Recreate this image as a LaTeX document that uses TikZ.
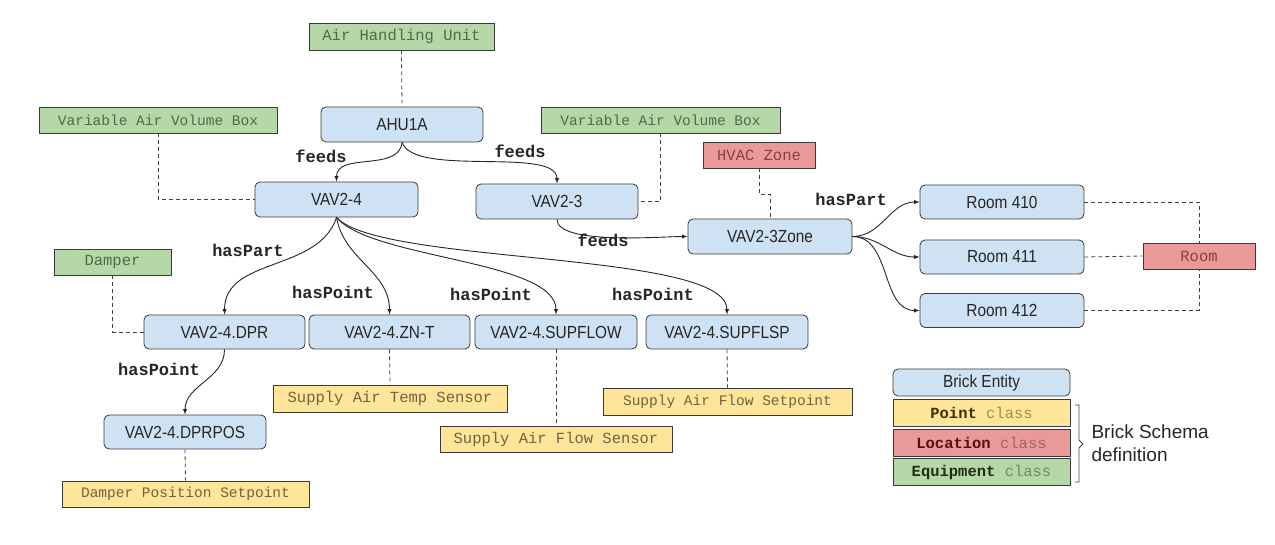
\documentclass[tikz,border=0pt]{standalone}
\usepackage{fontspec}
\setmainfont{Liberation Sans}
\setsansfont{Liberation Sans}
\setmonofont{Liberation Mono}
\newfontfamily\entfont[FakeStretch=0.88]{Liberation Sans}
\definecolor{edge}{HTML}{3A3A3A}
\definecolor{entfill}{HTML}{CFE2F3}
\definecolor{eqfill}{HTML}{B6D7A8}
\definecolor{ptfill}{HTML}{FFE599}
\definecolor{locfill}{HTML}{EA9999}
\definecolor{eqtext}{HTML}{4F6B47}
\definecolor{pttext}{HTML}{6F6240}
\definecolor{loctext}{HTML}{8E3E3E}
\definecolor{eqdark}{HTML}{1F2E17}
\definecolor{ptdark}{HTML}{3D2F05}
\definecolor{locdark}{HTML}{5A0F0F}
\definecolor{eqclass}{HTML}{6B8E60}
\definecolor{ptclass}{HTML}{A48B4A}
\definecolor{locclass}{HTML}{9A6565}
\begin{document}
\begin{tikzpicture}[x=1pt,y=-1pt,
  entity/.style={draw=edge, fill=entfill, rounded corners=5pt, line width=0.8pt, inner sep=0pt,
    minimum width=162, minimum height=35, text=black!85, font=\entfont\fontsize{17.5}{20}\selectfont},
  classbox/.style={draw=edge, line width=0.8pt, inner sep=0pt, minimum height=26,
    font=\ttfamily\fontsize{15.5}{18}\selectfont},
  longname/.style={font=\ttfamily\fontsize{14.5}{17}\selectfont},
  equipbox/.style={classbox, fill=eqfill, text=eqtext},
  pointbox/.style={classbox, fill=ptfill, text=pttext},
  placebox/.style={classbox, fill=locfill, text=loctext},
  rel/.style={->, >=latex, line width=0.9pt, draw=black!85},
  tie/.style={draw=black!75, line width=0.8pt, dash pattern=on 4pt off 3pt},
  relname/.style={text=black!85, font=\ttfamily\bfseries\fontsize{17}{19}\selectfont}
]
\useasboundingbox (0,0) rectangle (1275,545);

\node[equipbox, minimum width=185, minimum height=27] (ahuClass) at (401.5,36.5){Air Handling Unit};
\node[entity] (ahu) at (402,124.5){AHU1A};
\draw[tie] (ahuClass.south) -- (ahu.north);

\node[equipbox, longname, minimum width=238] (vavClassL) at (158,120){Variable Air Volume Box};
\node[entity, minimum width=163] (vavFour) at (336.5,199.5){VAV2-4};
\draw[tie] (vavClassL.south) |- (vavFour.west);

\node[equipbox, longname, minimum width=239] (vavClassR) at (660.5,120){Variable Air Volume Box};
\node[entity] (vavThree) at (557,201.5){VAV2-3};
\draw[tie] (vavClassR.south) |- (vavThree.east);

\draw[rel] (ahu.south) to[out=-95,in=90] (vavFour.north);
\draw[rel] (ahu.south) to[out=-70,in=90,looseness=0.6] (vavThree.north);
\node[relname] (feedsA) at (321,156){feeds};
\node[relname] (feedsB) at (520,151){feeds};

\node[placebox, minimum width=112] (hvacClass) at (759,155){HVAC Zone};
\node[entity, minimum width=164] (zone) at (770,236.5){VAV2-3Zone};
\draw[tie] (hvacClass.south) -- ++(0,26) -| (zone.north);
\draw[rel] (vavThree.south) to[out=-90,in=180,looseness=0.5] (zone.west);
\node[relname] (feedsC) at (603,240){feeds};

\node[entity, minimum width=164, minimum height=34] (roomA) at (1002,202){Room 410};
\node[entity, minimum width=164, minimum height=34] (roomB) at (1002,257){Room 411};
\node[entity, minimum width=164, minimum height=34] (roomC) at (1002,310.5){Room 412};
\node[placebox, minimum width=112] (roomClass) at (1199,256){Room};
\draw[rel] (zone.east) to[out=0,in=180] (roomA.west);
\draw[rel] (zone.east) to[out=0,in=180] (roomB.west);
\draw[rel] (zone.east) to[out=0,in=180] (roomC.west);
\node[relname] (partB) at (851,199){hasPart};
\draw[tie] (roomA.east) -| (roomClass.north);
\draw[tie] (roomB.east) -- (roomClass.west);
\draw[tie] (roomC.east) -| (roomClass.south);

\node[equipbox, minimum width=117] (damperClass) at (112.5,262){Damper};
\node[entity, minimum width=161, minimum height=34] (dpr) at (224.5,332){VAV2-4.DPR};
\node[entity, minimum width=161, minimum height=34] (znt) at (389.5,332){VAV2-4.ZN-T};
\node[entity, minimum width=162, minimum height=34] (supflow) at (556,332){VAV2-4.SUPFLOW};
\node[entity, minimum width=162, minimum height=34] (supflsp) at (727,332){VAV2-4.SUPFLSP};
\draw[tie] (damperClass.south) |- (dpr.west);

\draw[rel] (vavFour.south) to[out=-108,in=90] (dpr.north);
\draw[rel] (vavFour.south) to[out=-80,in=90] (znt.north);
\draw[rel] (vavFour.south) to[out=-50,in=90,looseness=0.58] (supflow.north);
\draw[rel] (vavFour.south) to[out=-48,in=90,looseness=0.41] (supflsp.north);
\node[relname] (partA) at (248,250){hasPart};
\node[relname] (pointA) at (333,292){hasPoint};
\node[relname] (pointB) at (491,294){hasPoint};
\node[relname] (pointC) at (653,294){hasPoint};

\node[entity, minimum width=162, minimum height=34] (dprpos) at (185,432){VAV2-4.DPRPOS};
\draw[rel] (dpr.south) to[out=-90,in=90] (dprpos.north);
\node[relname] (pointD) at (159,369){hasPoint};

\node[pointbox, longname, minimum width=247] (dprposClass) at (185.5,494){Damper Position Setpoint};
\node[pointbox, minimum width=234, minimum height=27] (zntClass) at (390,398.5){Supply Air Temp Sensor};
\node[pointbox, minimum width=232] (supflowClass) at (556,439){Supply Air Flow Sensor};
\node[pointbox, longname, minimum width=249, minimum height=27] (supflspClass) at (727.5,401.5){Supply Air Flow Setpoint};
\draw[tie] (dprpos.south) -- (dprposClass.north);
\draw[tie] (znt.south) -- (zntClass.north);
\draw[tie] (supflow.south) -- (supflowClass.north);
\draw[tie] (supflsp.south) -- (supflspClass.north);

\node[entity, minimum width=177, minimum height=27] (entLeg) at (981.5,382.5){Brick Entity};
\node[pointbox, minimum width=177, minimum height=27] (ptLeg) at (981.5,412.5){\textcolor{ptdark}{\textbf{Point}} \textcolor{ptclass}{class}};
\node[placebox, minimum width=177, minimum height=27] (locLeg) at (981.5,442.5){\textcolor{locdark}{\textbf{Location}} \textcolor{locclass}{class}};
\node[equipbox, minimum width=177, minimum height=27] (eqLeg) at (981.5,472){\textcolor{eqdark}{\textbf{Equipment}} \textcolor{eqclass}{class}};
\draw[draw=black!75, line width=0.8pt] (1075,405) -- (1079,405) -- (1079,440) -- (1083,444) -- (1079,448) -- (1079,482) -- (1075,482);
\node[anchor=west, align=left, text=black!85, font=\sffamily\fontsize{19}{23}\selectfont] (schema) at (1088,443){Brick Schema\\definition};

\end{tikzpicture}
\end{document}
